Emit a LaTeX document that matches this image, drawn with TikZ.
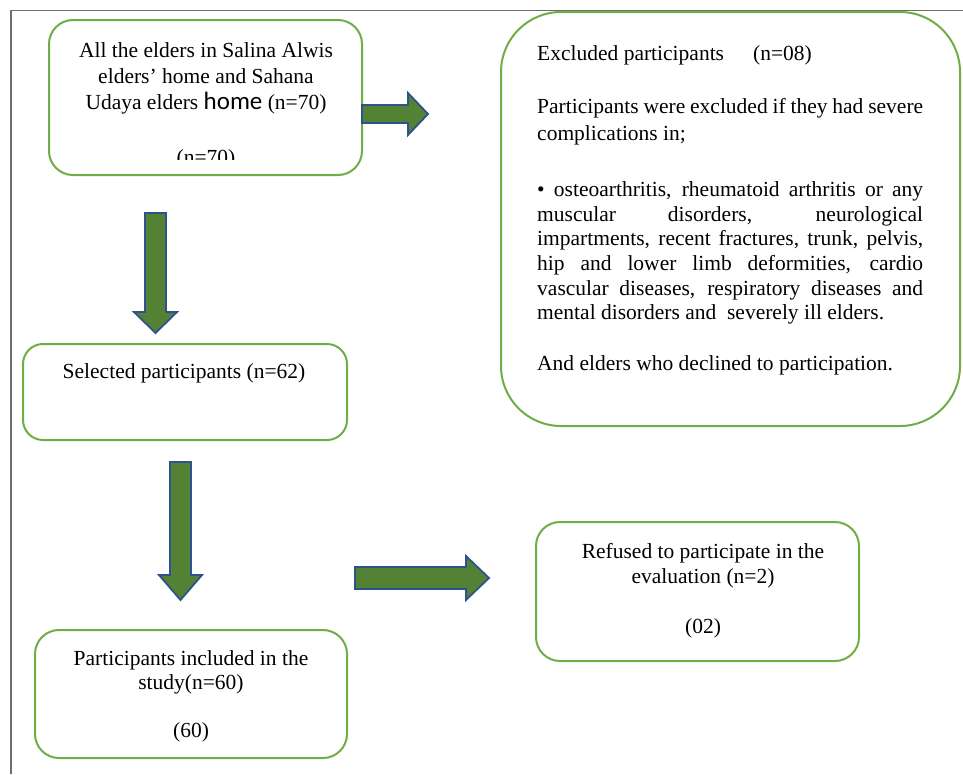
\documentclass[tikz,border=0pt]{standalone}
\usepackage{fontspec}
\setmainfont{Liberation Serif}
\newfontfamily\homefont{Carlito}
\definecolor{boxgreen}{RGB}{112,173,71}
\definecolor{arrowgreen}{RGB}{84,130,53}
\definecolor{arrowblue}{RGB}{47,82,143}
\definecolor{framegray}{RGB}{110,110,110}
\begin{document}
\begin{tikzpicture}[x=1pt,y=-1pt,
  box/.style={draw=boxgreen, line width=2pt, rounded corners=24pt, fill=white},
  blockarrow/.style={draw=arrowblue, fill=arrowgreen, line width=1.8pt, line join=miter},
  txt/.style={inner sep=0pt, anchor=base, font=\fontsize{21.5}{24.5}\selectfont},
  ltxt/.style={txt, anchor=base west},
  framestyle/.style={draw=framegray, line width=1.4pt}
  ]
\useasboundingbox (0,0) rectangle (963,774);

% boxes
\draw[box, rounded corners=60pt] (501,12) rectangle (960,426);
\draw[box] (49,20) rectangle (362,175);
\draw[box, rounded corners=20pt] (23,344) rectangle (347,440);
\draw[box] (35,630) rectangle (347,758);
\draw[box] (536,522) rectangle (859,661);

% frame
\draw[framestyle] (963,10.5) -- (11,10.5) -- (11,774);

% block arrows
\draw[blockarrow] (362,105) -- (408,105) -- (408,93) -- (428,114) -- (408,135) -- (408,123) -- (362,123) -- cycle;
\draw[blockarrow] (145,213) -- (166,213) -- (166,312) -- (177,312) -- (155.5,333) -- (134,312) -- (145,312) -- cycle;
\draw[blockarrow] (170,462) -- (191,462) -- (191,575) -- (202,575) -- (180.5,600) -- (159,575) -- (170,575) -- cycle;
\draw[blockarrow] (355,567) -- (466,567) -- (466,556) -- (489,578) -- (466,600) -- (466,589) -- (355,589) -- cycle;

% box 1 text
\node[txt] (t1a) at (206,57) {All the elders in Salina Alwis};
\node[txt] (t1b) at (206,83) {elders’ home and Sahana};
\node[txt] (t1c) at (206,109) {Udaya elders {\homefont\fontsize{25}{26}\selectfont home} (n=70)};
\begin{scope}
\clip (49,20) rectangle (362,159);
\node[txt] (t1d) at (206,164) {(n=70)};
\end{scope}

% box 2 text
\node[txt] (t2) at (184,378) {Selected participants (n=62)};

% box 3 text
\node[txt] (t3a) at (191,665) {Participants included in the};
\node[txt] (t3b) at (191,689) {study(n=60)};
\node[txt] (t3c) at (191,737) {(60)};

% box 4 text
\node[txt] (t4a) at (703,558) {Refused to participate in the};
\node[txt] (t4b) at (703,583) {evaluation (n=2)};
\node[txt] (t4c) at (703,633) {(02)};

% box 5 text
\node[ltxt] (e1) at (537,60) {Excluded participants\hspace*{29pt}(n=08)};
\node[ltxt] (e2) at (537,113) {\makebox[386pt][s]{Participants were excluded if they had severe}};
\node[ltxt] (e3) at (537,140) {complications in;};
\node[ltxt] (e4) at (537,196) {\makebox[386pt][s]{• osteoarthritis, rheumatoid arthritis or any}};
\node[ltxt] (e5) at (537,221) {\makebox[386pt][s]{muscular disorders, neurological}};
\node[ltxt] (e6) at (537,245) {\makebox[386pt][s]{impartments, recent fractures, trunk, pelvis,}};
\node[ltxt] (e7) at (537,270) {\makebox[386pt][s]{hip and lower limb deformities, cardio}};
\node[ltxt] (e8) at (537,295) {\makebox[386pt][s]{vascular diseases, respiratory diseases and}};
\node[ltxt] (e9) at (537,319) {mental disorders and\ \ severely ill elders.};
\node[ltxt] (e10) at (537,370) {And elders who declined to participation.};
\end{tikzpicture}
\end{document}
